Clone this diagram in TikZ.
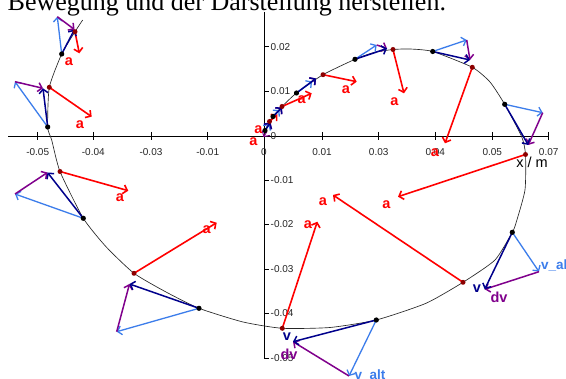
\documentclass[tikz,border=0pt]{standalone}
\usepackage{fontspec}
\setmainfont{Liberation Serif}
\setsansfont{Liberation Sans}
\usetikzlibrary{arrows.meta}
\definecolor{vnavy}{RGB}{0,0,140}
\definecolor{vlight}{RGB}{60,125,235}
\definecolor{vpurp}{RGB}{128,0,140}
\definecolor{ared}{RGB}{255,0,0}
\definecolor{dred}{RGB}{140,0,0}
\tikzset{
  head/.style={-{Straight Barb[length=4pt,width=9pt]}},
  vs/.style={head,draw=vnavy,line width=1.5pt},
  vl/.style={head,draw=vlight,line width=1.3pt},
  dvs/.style={head,draw=vpurp,line width=1.5pt},
  as/.style={head,draw=ared,line width=1.6pt},
  alab/.style={text=ared,font=\sffamily\bfseries\fontsize{14.5}{15}\selectfont,inner sep=0pt},
  ticklab/.style={text=black!85,font=\sffamily\fontsize{10}{11}\selectfont,inner sep=0pt},
  curve/.style={draw=black!85,line width=0.65pt},
  axis/.style={draw=black,line width=0.9pt},
  vlab/.style={font=\sffamily\bfseries\fontsize{14.5}{15}\selectfont,inner sep=0pt},
}
\newcommand{\vgrp}[4]{%
  \coordinate (#1p) at (#2); \coordinate (#1v) at (#3); \coordinate (#1l) at (#4);
  \draw[vl] (#1p) -- (#1l);
  \draw[dvs] (#1l) -- (#1v);
  \draw[vs] (#1p) -- (#1v);
}
\newcommand{\agrp}[4]{%
  \coordinate (#1r) at (#2); \coordinate (#1a) at (#3);
  \draw[as] (#1r) -- (#1a);
  \node[alab] (#1t) at (#4) {a};
}
\begin{document}
\begin{tikzpicture}[x=1pt,y=-1pt]
\path[use as bounding box] (0,0) rectangle (566,379);
\clip (0,0) rectangle (566,379);
\fill[white] (0,0) rectangle (566,379);
% title
\node[anchor=base west,inner sep=0pt,font=\fontsize{26}{30}\selectfont] (title) at (7.5,10.5) {Bewegung und der Darstellung herstellen.};
% axes
\coordinate (xl) at (8,136); \coordinate (xr) at (549,136);
\coordinate (yt) at (264,12); \coordinate (yb) at (264,358.3);
\draw[axis] (xl) -- (xr);
\draw[axis] (yt) -- (yb);
\foreach \x/\l [count=\i] in {37.7/-0.05,93.3/-0.04,151/-0.03,207.7/-0.01,264/0,322/0.01,378.7/0.03,435.3/0.04,492.3/0.05,548.7/0.07}{
  \draw[axis] (\x,132) -- (\x,140);
  \node[ticklab] (xt\i) at (\x,152.3) {\l};
}
\foreach \y/\l [count=\i] in {46.7/0.02,91/0.01,136/0,180.3/-0.01,224.3/-0.02,269.3/-0.03,313.3/-0.04,358.3/-0.05}{
  \draw[axis] (264,\y) -- (269,\y);
  \node[ticklab,anchor=west] (yt\i) at (270.5,\y) {\l};
}
\node[font=\sffamily\fontsize{14.5}{15}\selectfont,inner sep=0pt] (xlab) at (532,162.5) {x / m};
% trajectory
\draw[curve] plot[smooth,tension=0.35] coordinates {
(264,136) (265,130.5) (269.5,121.5) (273,116.5) (282,106.5) (296.5,93) (323,74.7) (355,59.3) (374,52.5) (393,49.5) (410,49) (432.7,51.5) (472.3,67.3) (490,82) (504.7,104.3) (521.7,136.7) (525.5,154.5) (525,190) (516,223) (512.3,232.3) (495,260) (463,282.3) (426,303.3) (376.3,320) (330,327.5) (282.3,328.3) (243,322) (199,308.3) (166,292) (134,273.3) (106,246.7) (83.3,218.3) (60,171.5) (51.7,140) (47.7,127) (49.3,87.3) (61.7,54) (75,31.7) (82.7,20)};
% acceleration arrows
\agrp{r1}{75,31.7}{79.3,53.3}{69,61.7}
\agrp{r2}{49.3,87.3}{91.7,116.7}{80,125}
\agrp{r3}{60,171.5}{128.3,190.7}{120,197.5}
\agrp{r4}{134,273.3}{216.7,222.7}{206.7,230}
\agrp{r5}{282.3,328.3}{317.3,221.7}{308,225}
\agrp{r6}{463,282.3}{333,195}{323,201.7}
\agrp{r7}{525.5,154.5}{398,196.7}{386.3,205}
\agrp{r8}{472.3,67.3}{445,143.3}{435,152.5}
\agrp{r9}{393,49.5}{404,93.3}{394.5,101.7}
\agrp{r10}{323,74.7}{356.7,81.7}{346,90}
\agrp{r11}{282,106.5}{311.7,93.3}{301.7,100}
\agrp{r12}{269.5,121.5}{277.5,114.5}{258.3,129.5}
\node[alab] (r13t) at (253.3,142) {a};
% velocity groups
\vgrp{g1}{61.7,54}{74.5,29.5}{57.3,16.7}
\vgrp{g2}{47.7,127}{43,88.3}{15,81.7}
\vgrp{g3}{83.3,218.3}{47.5,172.5}{15,194}
\vgrp{g4}{199,308.3}{129.5,284}{116.7,331.7}
\vgrp{g5}{376.3,320}{293,341.7}{349,376}
\vgrp{g6}{512.3,232.3}{484.7,289.3}{539,271.7}
\vgrp{g7}{504.7,104.3}{528.3,145}{542.7,112.7}
\vgrp{g8}{432.7,51.5}{470,60}{466.7,40}
\vgrp{g9}{355,59.3}{387,48.5}{376.7,45}
\vgrp{g10}{296.5,93}{316,78.5}{312,81.5}
\vgrp{g11}{273,116.5}{282,107.5}{279.5,110}
\vgrp{g12}{265,130.5}{270.5,122.5}{269.5,124}
\coordinate (g13s) at (267,131.5); \coordinate (g13e) at (263.5,137);
\draw[dvs,line width=1pt] (g13s) -- (g13e);
% dots
\foreach \n in {g1,g2,g3,g4,g5,g6,g7,g8,g9,g10,g11,g12}{\fill[black] (\n p) circle (2.6);}
\foreach \n in {r1,r2,r3,r4,r5,r6,r7,r8,r9,r10,r11,r12}{\fill[dred] (\n r) circle (2.5);}
% vector labels
\node[vlab,text=vnavy] (v1) at (287,337) {v};
\node[vlab,text=vpurp] (dv1) at (289,354) {dv};
\node[vlab,text=vlight,anchor=west,font=\sffamily\bfseries\fontsize{13.5}{15}\selectfont] (va1) at (354.5,375.5) {v\_alt};
\node[vlab,text=vnavy] (v2) at (477,288.5) {v};
\node[vlab,text=vpurp] (dv2) at (499,297.3) {dv};
\node[vlab,text=vlight,anchor=west,font=\sffamily\bfseries\fontsize{13.5}{15}\selectfont] (va2) at (541,265) {v\_alt};
\end{tikzpicture}
\end{document}
